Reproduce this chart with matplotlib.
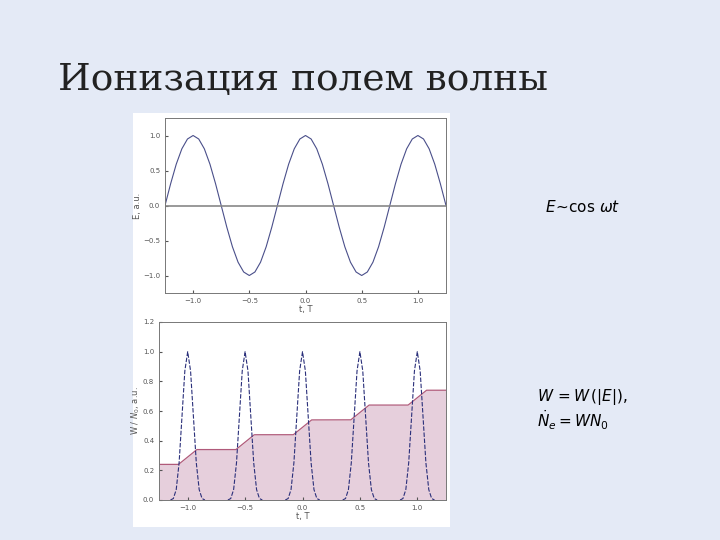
import numpy as np
import matplotlib.pyplot as plt

# top panel: E(t) samples, t step 0.05 from -1.25
t_top = np.round(np.arange(-1.25, 1.2501, 0.05), 3)
cyc = [0, .31, .59, .81, .95, 1, .95, .81, .59, .31, 0, -.31, -.59, -.81, -.95, -1, -.95, -.81, -.59, -.31]
E_vals = (cyc * 3)[:len(t_top)]
# bottom panel
pulse_centers = [-1.0, -0.5, 0.0, 0.5, 1.0]
pulse_off = [-0.15, -0.125, -0.1, -0.075, -0.05, -0.025, 0, 0.025, 0.05, 0.075, 0.1, 0.125, 0.15]
pulse_val = [0, 0.01, 0.07, 0.25, 0.56, 0.87, 1.0, 0.87, 0.56, 0.25, 0.07, 0.01, 0]
levels = [0.24, 0.34, 0.44, 0.54, 0.64, 0.74]
xticks = [-1.0, -0.5, 0.0, 0.5, 1.0]
xticklabels = ['\u22121.0', '\u22120.5', '0.0', '0.5', '1.0']

W, H = 720, 540
fig = plt.figure(figsize=(7.2, 5.4), dpi=100)
fig.patch.set_facecolor('#e4eaf6')
bg = fig.add_axes([133/W, 1-527/H, (450-133)/W, (527-113)/H], zorder=-5)
bg.set_facecolor('white'); bg.set_xticks([]); bg.set_yticks([])
for s in bg.spines.values():
    s.set_visible(False)
fig.text(58/W, 1-80/H, 'Ионизация полем волны', fontsize=27, family='DejaVu Serif',
         va='center', ha='left', color='#222222')

def ax_at(x0, y0, x1, y1):
    return fig.add_axes([x0/W, 1-y1/H, (x1-x0)/W, (y1-y0)/H])

tick_kw = dict(labelsize=5, colors='#555555', direction='in', length=2)
ax1 = ax_at(165, 118, 446, 293)
ax1.plot(t_top, E_vals, color='#4a4f8a', lw=0.8)
ax1.axhline(0, color='#888888', lw=1.2)
ax1.set_xlim(-1.25, 1.25); ax1.set_ylim(-1.25, 1.25)
ax1.set_xticks(xticks); ax1.set_xticklabels(xticklabels)
ax1.set_yticks([-1, -0.5, 0, 0.5, 1]); ax1.set_yticklabels(['\u22121.0', '\u22120.5', '0.0', '0.5', '1.0'])
ax1.tick_params(**tick_kw)
ax1.set_xlabel('t, T', fontsize=6, color='#555555', labelpad=1)
ax1.set_ylabel('E, a.u.', fontsize=6, color='#555555', labelpad=1)

ax2 = ax_at(159, 322, 446, 500)
sx = [-1.25]; sy = [levels[0]]
for i, c in enumerate(pulse_centers):
    sx += [c - 0.08, c + 0.08]; sy += [levels[i], levels[i+1]]
sx.append(1.25); sy.append(levels[-1])
xs = np.linspace(-1.25, 1.25, 800)
st = np.interp(xs, sx, sy)
ax2.fill_between(xs, 0, st, color='#e6cfdc', lw=0)
ax2.plot(xs, st, color='#b05a7a', lw=0.9)
for c in pulse_centers:
    ax2.plot(np.array(pulse_off) + c, pulse_val, color='#2a2f7a', lw=0.8, ls=(0, (4, 1.5)))
ax2.set_xlim(-1.25, 1.25); ax2.set_ylim(0, 1.2)
ax2.set_xticks(xticks); ax2.set_xticklabels(xticklabels)
ax2.set_yticks([0, 0.2, 0.4, 0.6, 0.8, 1.0, 1.2])
ax2.tick_params(**tick_kw)
ax2.set_xlabel('t, T', fontsize=6, color='#555555', labelpad=1)
ax2.set_ylabel('W / $N_0$, a.u.', fontsize=6, color='#555555', labelpad=1)
for a in (ax1, ax2):
    for s in a.spines.values():
        s.set_color('#777777'); s.set_linewidth(0.7)

fig.text(545/W, 1-207/H, r'$E\!\sim\!\cos\,\omega t$', fontsize=11, va='center')
fig.text(537/W, 1-397/H, r'$W\,=W\,(|E|),$', fontsize=11, va='center')
fig.text(537/W, 1-420/H, r'$\dot{N}_e = W N_0$', fontsize=11, va='center')
fig.savefig('out.png', dpi=100, facecolor=fig.get_facecolor())
